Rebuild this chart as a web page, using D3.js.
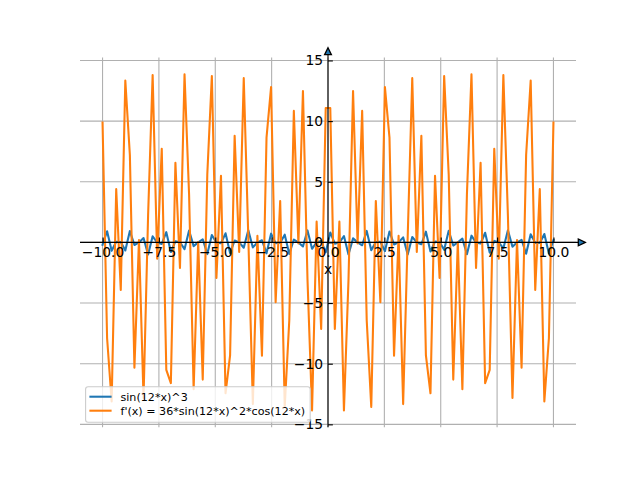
<!DOCTYPE html>
<html><head><meta charset="utf-8">
<script src="https://cdn.jsdelivr.net/npm/d3@7"></script>
<style>
body{margin:0;background:#fff}
svg{display:block}
text{font-family:"DejaVu Sans",sans-serif}
</style>
</head><body>
<svg id="chart" width="640" height="480"></svg>
<script>
// sample points (100 evenly spaced points on [-10, 10])
const xValues = [
-10.000,-9.798,-9.596,-9.394,-9.192,-8.990,-8.788,-8.586,-8.384,-8.182,
-7.980,-7.778,-7.576,-7.374,-7.172,-6.970,-6.768,-6.566,-6.364,-6.162,
-5.960,-5.758,-5.556,-5.354,-5.152,-4.949,-4.747,-4.545,-4.343,-4.141,
-3.939,-3.737,-3.535,-3.333,-3.131,-2.929,-2.727,-2.525,-2.323,-2.121,
-1.919,-1.717,-1.515,-1.313,-1.111,-0.909,-0.707,-0.505,-0.303,-0.101,
0.101,0.303,0.505,0.707,0.909,1.111,1.313,1.515,1.717,1.919,
2.121,2.323,2.525,2.727,2.929,3.131,3.333,3.535,3.737,3.939,
4.141,4.343,4.545,4.747,4.949,5.152,5.354,5.556,5.758,5.960,
6.162,6.364,6.566,6.768,6.970,7.172,7.374,7.576,7.778,7.980,
8.182,8.384,8.586,8.788,8.990,9.192,9.394,9.596,9.798,10.000];

// series 1: sin(12*x)^3
const sinCubed = [
-0.196,0.920,-0.694,0.047,0.039,-0.669,0.935,-0.215,0.000,0.361,
-0.994,0.497,-0.008,-0.123,0.844,-0.797,0.093,0.015,-0.556,0.981,
-0.308,0.000,0.261,-0.962,0.611,-0.025,-0.068,0.749,-0.884,0.156,
0.003,-0.442,1.000,-0.414,0.002,0.175,-0.903,0.722,-0.057,-0.032,
0.640,-0.949,0.237,0.000,-0.334,0.989,-0.527,0.011,0.107,-0.821,
0.821,-0.107,-0.011,0.527,-0.989,0.334,0.000,-0.237,0.949,-0.640,
0.032,0.057,-0.722,0.903,-0.175,-0.002,0.414,-1.000,0.442,-0.003,
-0.156,0.884,-0.749,0.068,0.025,-0.611,0.962,-0.261,0.000,0.308,
-0.981,0.556,-0.015,-0.093,0.797,-0.844,0.123,0.008,-0.497,0.994,
-0.361,0.000,0.215,-0.935,0.669,-0.039,-0.047,0.694,-0.920,0.196];

// series 2: f'(x) = 36*sin(12*x)^2*cos(12*x)
const derivative = [
9.88,-7.90,-13.12,4.39,-3.92,13.35,7.21,-10.34,0.20,-12.82,
2.19,13.79,-1.35,7.72,-10.51,-11.60,6.57,-2.10,13.85,3.97,
-12.11,0.02,-11.31,5.60,13.71,-2.94,5.49,-12.44,-9.32,8.79,
-0.78,13.54,0.46,-13.33,0.54,-9.35,8.63,12.80,-4.93,3.42,
-13.56,-6.42,10.84,-0.09,12.48,-3.09,-13.85,1.71,-7.14,11.08,
11.08,-7.14,1.71,-13.85,-3.09,12.48,-0.09,10.84,-6.42,-13.56,
3.42,-4.93,12.80,8.63,-9.35,0.54,-13.33,0.46,13.54,-0.78,
8.79,-9.32,-12.44,5.49,-2.94,13.71,5.60,-11.31,0.02,-12.11,
3.97,13.85,-2.10,6.57,-11.60,-10.51,7.72,-1.35,13.79,2.19,
-12.82,0.20,-10.34,7.21,13.35,-3.92,4.39,-13.12,-7.90,9.88];

const seriesNames = ["sin(12*x)^3", "f'(x) = 36*sin(12*x)^2*cos(12*x)"];
const seriesColors = ["#1f77b4", "#ff7f0e"];
const xTicks = [-10, -7.5, -5, -2.5, 0, 2.5, 5, 7.5, 10];
const xTickLabels = ["\u221210.0", "\u22127.5", "\u22125.0", "\u22122.5", "0.0", "2.5", "5.0", "7.5", "10.0"];
const yTicks = [-15, -10, -5, 0, 5, 10, 15];
const yTickLabels = ["\u221215", "\u221210", "\u22125", "0", "5", "10", "15"];
const xLabel = "x";

// layout
const L = 80, R = 576, T = 57.6, B = 427.2;
const svg = d3.select("#chart");

const xExt = d3.extent(xValues), xPad = (xExt[1] - xExt[0]) * 0.05;
const allY = sinCubed.concat(derivative);
const yExt = d3.extent(allY), yPad = (yExt[1] - yExt[0]) * 0.05;
const x = d3.scaleLinear().domain([xExt[0] - xPad, xExt[1] + xPad]).range([L, R]);
const y = d3.scaleLinear().domain([yExt[0] - yPad, yExt[1] + yPad]).range([B, T]);

const x0 = x(0), y0 = y(0);

// grid
const grid = svg.append("g");
grid.selectAll("line.vx").data(xTicks).join("line")
  .attr("x1", d => x(d)).attr("x2", d => x(d)).attr("y1", T).attr("y2", B)
  .attr("stroke", "#b0b0b0").attr("stroke-width", 1.1);
grid.selectAll("line.hy").data(yTicks).join("line")
  .attr("x1", L).attr("x2", R).attr("y1", d => y(d)).attr("y2", d => y(d))
  .attr("stroke", "#b0b0b0").attr("stroke-width", 1.1);

// lines
const series = [sinCubed, derivative];
const line = d3.line().x((d, i) => x(xValues[i])).y(d => y(d));
series.forEach((s, k) => {
  svg.append("path").datum(s).attr("d", line)
    .attr("fill", "none").attr("stroke", seriesColors[k]).attr("stroke-width", 2.08)
    .attr("stroke-linejoin", "round").attr("stroke-linecap", "square");
});

// spines with arrows
svg.append("line").attr("x1", L).attr("x2", 581.5).attr("y1", y0).attr("y2", y0)
  .attr("stroke", "#000").attr("stroke-width", 1.1);
svg.append("line").attr("x1", x0).attr("x2", x0).attr("y1", B).attr("y2", 51.5)
  .attr("stroke", "#000").attr("stroke-width", 1.1);

// axes (ticks point inward, labels outside)
const xAxis = d3.axisBottom(x).tickValues(xTicks).tickSize(-4.86).tickPadding(4.86)
  .tickFormat((d, i) => xTickLabels[i]);
const gx = svg.append("g").attr("transform", `translate(0,${y0})`).call(xAxis);
gx.select(".domain").remove();
gx.selectAll(".tick line").attr("stroke", "#000").attr("stroke-width", 1.1);
gx.selectAll(".tick text").attr("fill", "#000").attr("font-size", 13.89)
  .attr("font-family", "DejaVu Sans");

const yAxis = d3.axisLeft(y).tickValues(yTicks).tickSize(-4.86).tickPadding(4.86)
  .tickFormat((d, i) => yTickLabels[i]);
const gy = svg.append("g").attr("transform", `translate(${x0},0)`).call(yAxis);
gy.select(".domain").remove();
gy.selectAll(".tick line").attr("stroke", "#000").attr("stroke-width", 1.1);
gy.selectAll(".tick text").attr("fill", "#000").attr("font-size", 13.89)
  .attr("font-family", "DejaVu Sans");

// arrow heads
const ax = 581.5, ayTop = 51.5;
svg.append("path")
  .attr("d", `M${x0},${ayTop - 3.8}L${x0 + 3.4},${ayTop + 3.2}L${x0 - 3.4},${ayTop + 3.2}Z`)
  .attr("fill", "#1f77b4").attr("stroke", "#000").attr("stroke-width", 1.3);
svg.append("path")
  .attr("d", `M${ax + 3.8},${y0}L${ax - 3.2},${y0 - 3.4}L${ax - 3.2},${y0 + 3.4}Z`)
  .attr("fill", "#1f77b4").attr("stroke", "#000").attr("stroke-width", 1.3);

// x label
svg.append("text").attr("x", x0).attr("y", 274).attr("text-anchor", "middle")
  .attr("font-size", 13.89).text(xLabel);

// legend
const fs = 11.11;
const lg = svg.append("g");
const box = lg.append("rect").attr("x", 85.6).attr("y", 386.8).attr("rx", 2.5).attr("ry", 2.5)
  .attr("height", 35.4).attr("fill", "#fff").attr("fill-opacity", 0.8)
  .attr("stroke", "#cccccc").attr("stroke-width", 1.1);
const rowsY = [396.7, 410.7];
let maxW = 0;
seriesNames.forEach((n, k) => {
  lg.append("line").attr("x1", 89.4).attr("x2", 111.6).attr("y1", rowsY[k]).attr("y2", rowsY[k])
    .attr("stroke", seriesColors[k]).attr("stroke-width", 2.08);
  const t = lg.append("text").attr("x", 120.5).attr("y", rowsY[k] + 4.1)
    .attr("font-size", fs).attr("fill", "#000").text(n);
  maxW = Math.max(maxW, t.node().getComputedTextLength());
});
box.attr("width", 120.5 + maxW + 5 - 85.6);
</script>
</body></html>
